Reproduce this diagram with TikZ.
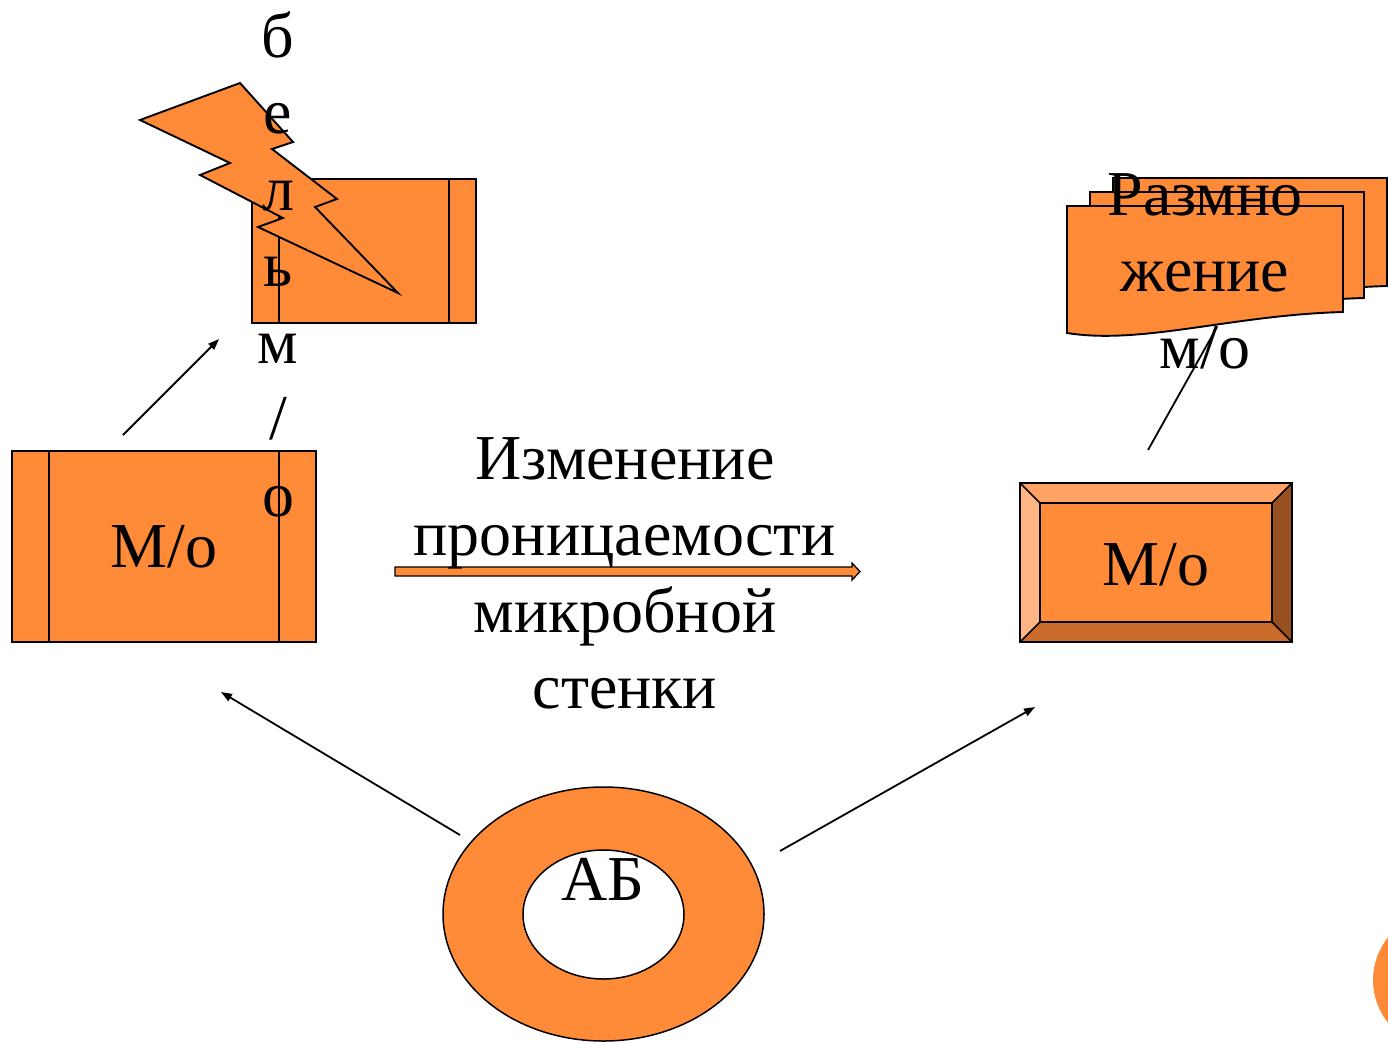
\documentclass[tikz,border=0pt]{standalone}
\usepackage{fontspec}
\setmainfont{Liberation Serif}
\usetikzlibrary{arrows.meta}
\definecolor{org}{RGB}{255,139,56}
\definecolor{bevtop}{RGB}{255,163,100}
\definecolor{bevleft}{RGB}{255,182,132}
\definecolor{bevright}{RGB}{153,80,32}
\definecolor{bevbot}{RGB}{204,108,44}
\begin{document}
\begin{tikzpicture}[x=1pt,y=-1pt,line join=miter]
\tikzset{
  shp/.style={draw=black,fill=org,line width=1.9pt},
  con/.style={line width=1.8pt,-{Triangle[length=11pt,width=8pt]}},
  txt/.style={font=\fontsize{64}{76.5}\selectfont,inner sep=0pt,align=center,anchor=base},
  boxtxt/.style={font=\fontsize{64}{76.5}\selectfont,inner sep=0pt},
}
\useasboundingbox (0,0) rectangle (1388,1042);
% partial circle at bottom right
\fill[org] (1441,980) circle (68);
% connector coordinates
\coordinate (a1s) at (123,435);
\coordinate (a1e) at (219,339);
\coordinate (a2s) at (460,835);
\coordinate (a2e) at (221,692);
\coordinate (a3s) at (780,851);
\coordinate (a3e) at (1035,707);
\coordinate (a4s) at (1148,450);
\coordinate (a4e) at (1217,327);
\draw[con] (a1s) -- (a1e);
\draw[con] (a2s) -- (a2e);
\draw[con] (a3s) -- (a3e);
\draw[line width=1.8pt] (a4s) -- (a4e);
% left box
\node[shp,minimum width=304pt,minimum height=191pt,boxtxt] (box1) at (164,546.5) {М/о};
\draw[line width=1.9pt] ([xshift=38pt]box1.north west) -- ([xshift=38pt]box1.south west);
\draw[line width=1.9pt] ([xshift=-38pt]box1.north east) -- ([xshift=-38pt]box1.south east);
% top-left box
\node[shp,minimum width=224pt,minimum height=144pt] (box0) at (364,251) {};
\draw[line width=1.9pt] ([xshift=28pt]box0.north west) -- ([xshift=28pt]box0.south west);
\draw[line width=1.9pt] ([xshift=-28pt]box0.north east) -- ([xshift=-28pt]box0.south east);
% lightning
\draw[shp] (140,120) -- (240,83) -- (293,142) -- (272,149) -- (337,199) -- (315,207)
  -- (398,293) -- (258,227) -- (283,218) -- (200,175) -- (230,163) -- cycle;
% right bevel box
\node[minimum width=272pt,minimum height=159pt] (box2) at (1156,563) {};
\fill[org] (1020,483) rectangle (1292,642);
\fill[bevtop] (1020,483) -- (1292,483) -- (1272,503) -- (1040,503) -- cycle;
\fill[bevleft] (1020,483) -- (1040,503) -- (1040,622) -- (1020,642) -- cycle;
\fill[bevright] (1292,483) -- (1292,642) -- (1272,622) -- (1272,503) -- cycle;
\fill[bevbot] (1020,642) -- (1292,642) -- (1272,622) -- (1040,622) -- cycle;
\draw[line width=1.9pt] (1020,483) rectangle (1292,642);
\draw[line width=1.9pt] (1040,503) rectangle (1272,622);
\draw[line width=1.6pt] (1020,483) -- (1040,503) (1292,483) -- (1272,503)
  (1020,642) -- (1040,622) (1292,642) -- (1272,622);
\node[boxtxt,anchor=base] (m2) at (1156,585) {М/о};
% document stack
\draw[shp] (1113,178) -- (1387,178) -- (1387,286) .. controls (1280,289) and (1190,315) .. (1113,305) -- cycle;
\draw[shp] (1090,192) -- (1364,192) -- (1364,298) .. controls (1255,301) and (1165,327) .. (1090,319) -- cycle;
\draw[shp] (1067,206) -- (1343,206) -- (1343,312) .. controls (1232,315) and (1142,345) .. (1067,333) -- cycle;
% orange block arrow
\draw[fill=org,line width=1.3pt] (395,567) -- (852,567) -- (852,563) -- (860,571.5) -- (852,580)
  -- (852,576) -- (395,576) -- cycle;
% ring
\fill[org,even odd rule] (603.5,914) ellipse (160.5 and 127) (603.5,914.5) ellipse (80.5 and 64.5);
\draw[line width=1.5pt] (603.5,914) ellipse (160.5 and 127);
\draw[line width=1.5pt] (603.5,914.5) ellipse (80.5 and 64.5);
% texts (base anchor = baseline of the last line)
\node[txt] (t1) at (278,516) {б\\е\\л\\ь\\м\\/\\о};
\node[txt] (mid) at (625,708.5) {Изменение\\проницаемости\\микробной\\стенки};
\node[txt] (t2) at (1205,368) {Размно\\жение\\м/о};
\node[txt] (ab) at (603,900) {АБ};
\end{tikzpicture}
\end{document}
